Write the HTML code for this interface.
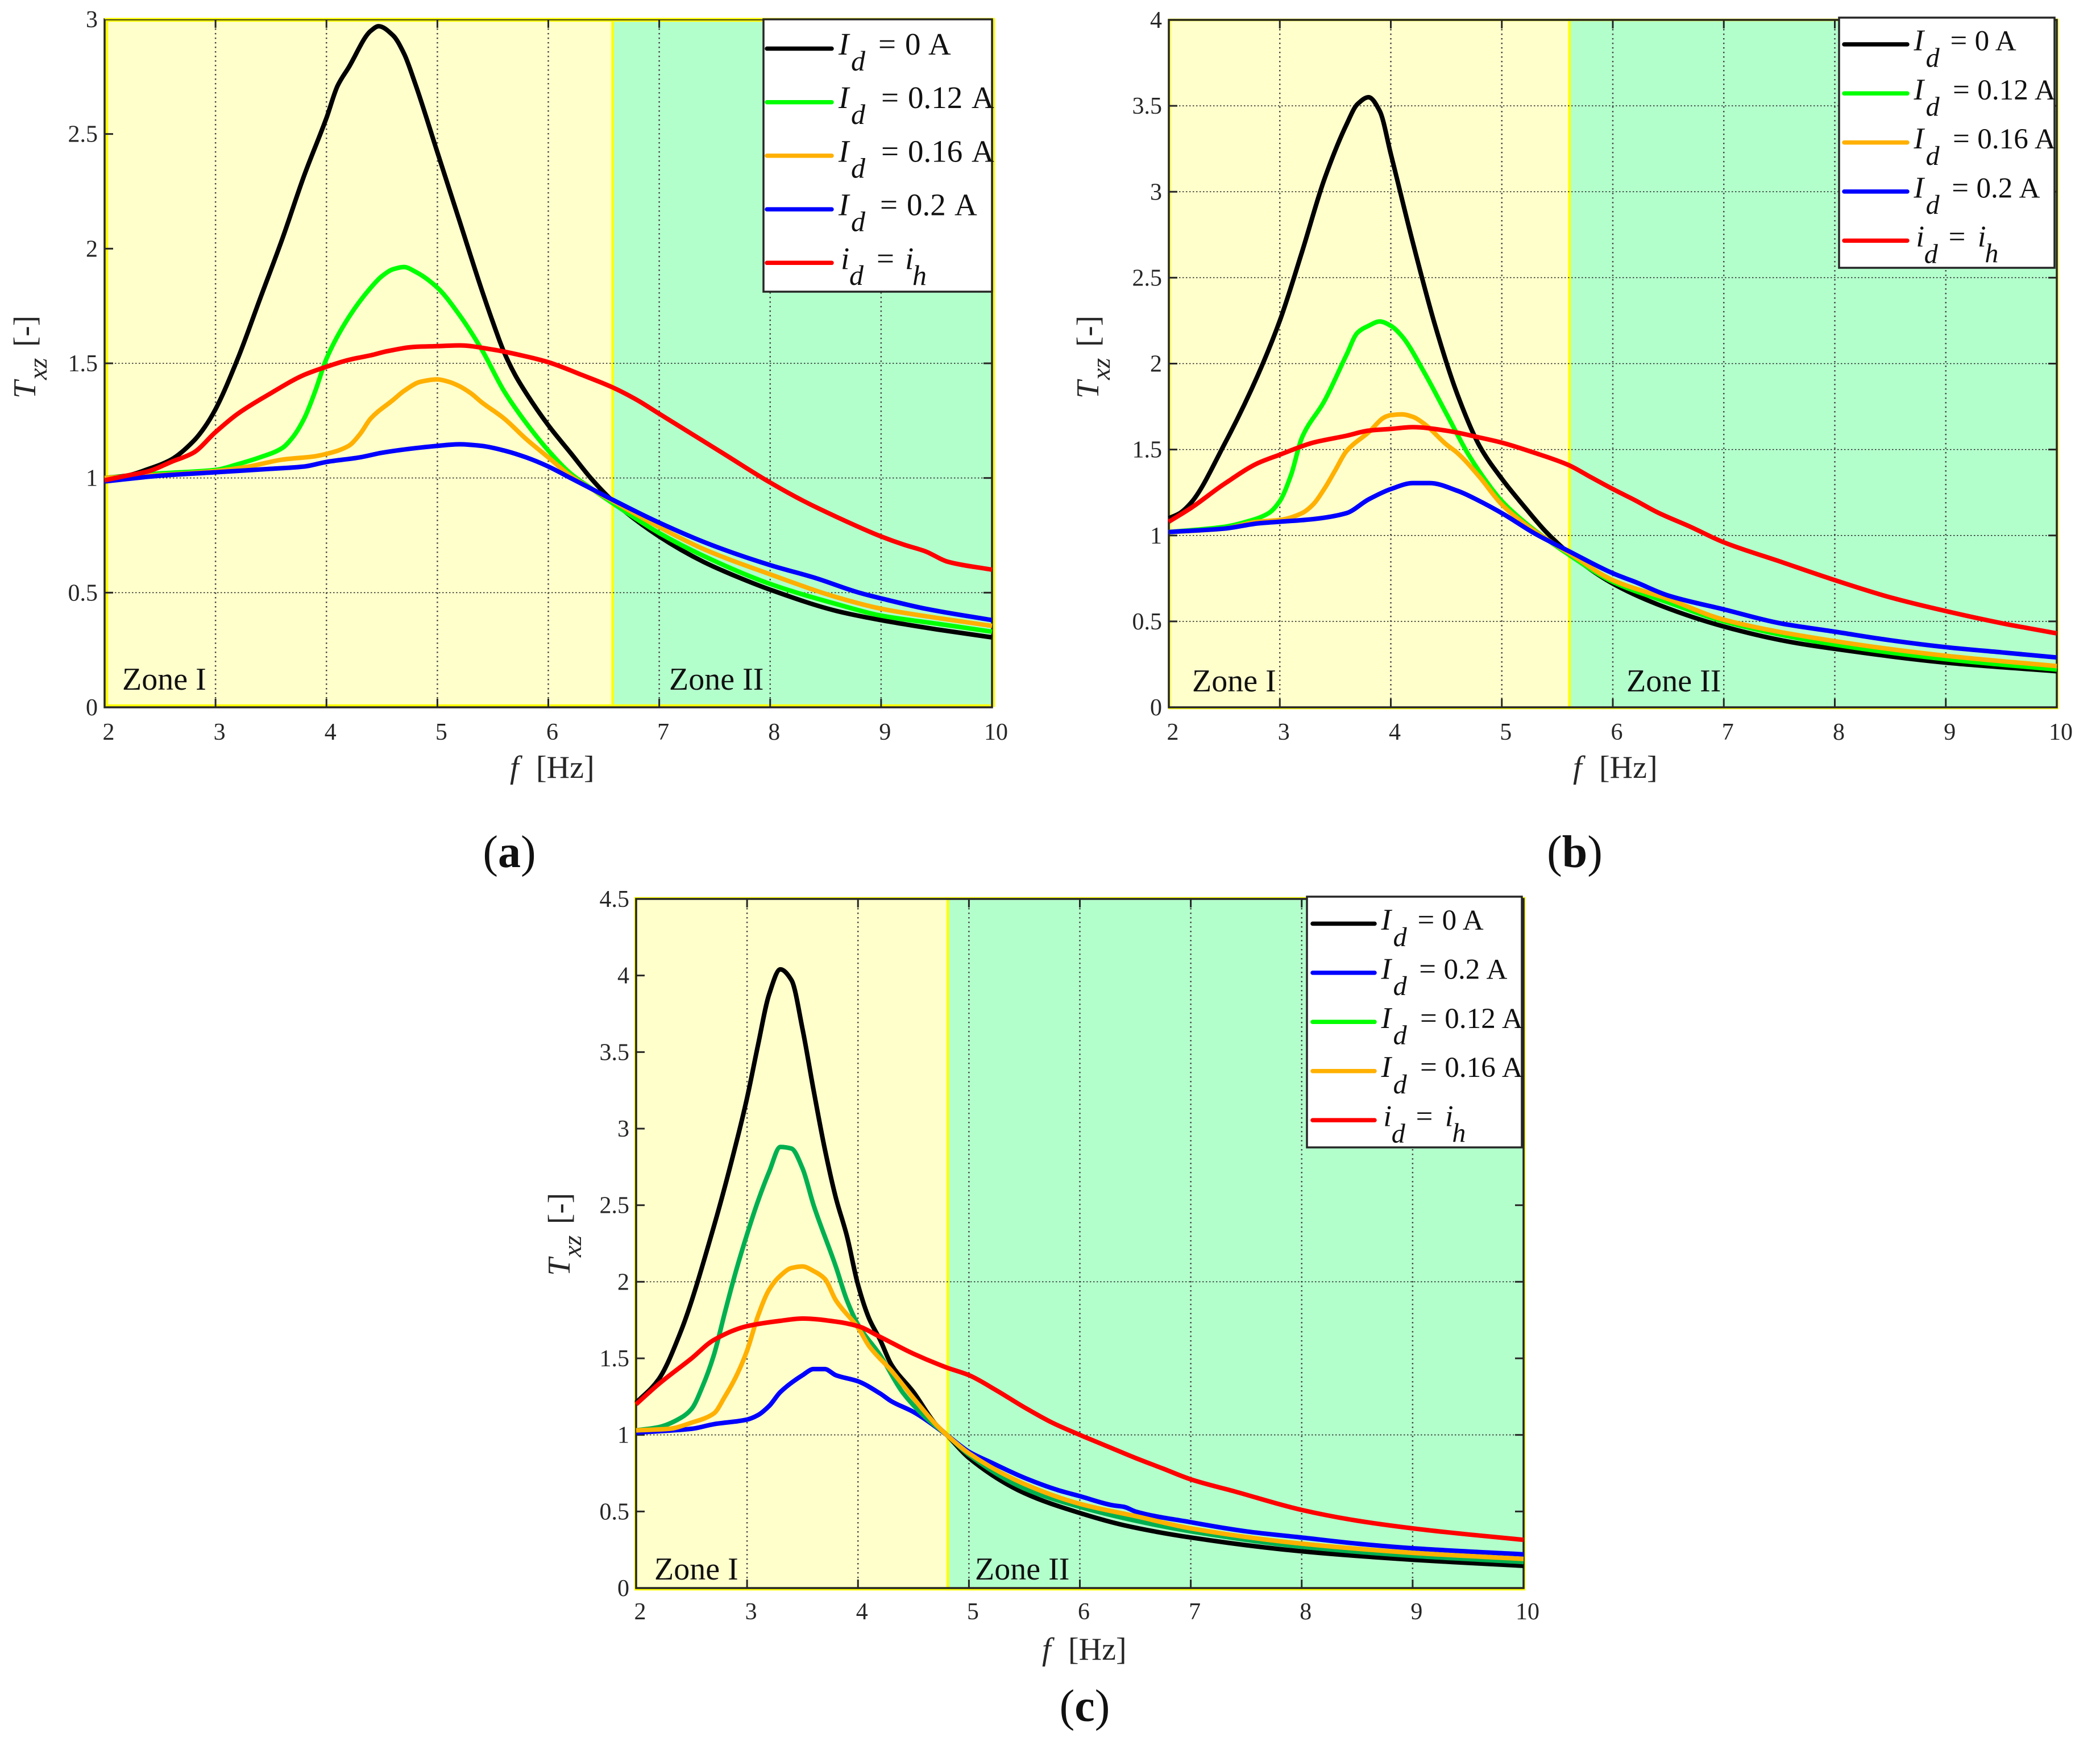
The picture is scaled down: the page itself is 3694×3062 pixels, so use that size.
<!DOCTYPE html>
<html lang="en">
<head>
<meta charset="utf-8">
<title>Transmissibility Txz versus frequency for three configurations</title>
<style>
html,body{margin:0;padding:0;background:#fff;}
svg{display:block;}
text{font-family:"Liberation Serif","Times New Roman",serif;}
</style>
</head>
<body>
<svg id="figure" xmlns="http://www.w3.org/2000/svg" width="3694" height="3062" viewBox="0 0 3694 3062">
<rect x="0" y="0" width="3694" height="3062" fill="#ffffff"/>
</svg>
<script>
// ---- shared tick labels ----
const xTickValues = [2, 3, 4, 5, 6, 7, 8, 9, 10];
const aYTicks = [0, 0.5, 1, 1.5, 2, 2.5, 3];
const bYTicks = [0, 0.5, 1, 1.5, 2, 2.5, 3, 3.5, 4];
const cYTicks = [0, 0.5, 1, 1.5, 2, 2.5, 3, 3.5, 4, 4.5];
const aGridY = [0.5, 1, 1.5];
const bGridY = [0.5, 1, 1.5, 2, 2.5, 3, 3.5];
const cGridY = [1, 2];

// ---- panel (a) ----
const aBlackF = [2,2.2,2.4,2.6,2.8,2.9,3,3.2,3.4,3.6,3.8,4,4.1,4.2,4.4,4.47,4.6,4.7,4.8,5,5.2,5.4,5.5,5.6,5.7,5.8,6,6.2,6.4,6.58,7,7.4,7.8,8,8.6,9,9.5,10];
const aBlackT = [1,1.01,1.04,1.08,1.16,1.22,1.30,1.52,1.78,2.04,2.32,2.57,2.71,2.79,2.95,2.97,2.93,2.85,2.72,2.42,2.12,1.82,1.68,1.55,1.45,1.37,1.23,1.11,0.99,0.90,0.745,0.634,0.55,0.513,0.42,0.38,0.34,0.305];
const aGreenF = [2,2.5,3,3.2,3.4,3.6,3.7,3.8,3.9,4,4.2,4.4,4.5,4.6,4.7,4.8,5,5.2,5.4,5.6,5.8,6,6.2,6.4,6.58,7,7.4,8,8.6,9,9.5,10];
const aGreenT = [1,1.02,1.035,1.06,1.09,1.13,1.18,1.26,1.38,1.52,1.70,1.83,1.88,1.91,1.92,1.90,1.83,1.71,1.56,1.38,1.24,1.12,1.02,0.95,0.89,0.76,0.66,0.538,0.45,0.40,0.365,0.33];
const aOrangeF = [2,3,3.3,3.6,3.9,4,4.2,4.3,4.4,4.6,4.7,4.85,5,5.1,5.2,5.3,5.4,5.6,5.8,6,6.2,6.58,7,7.4,8,8.6,9,9.5,10];
const aOrangeT = [1,1.03,1.05,1.08,1.095,1.105,1.14,1.19,1.26,1.34,1.38,1.42,1.43,1.42,1.40,1.37,1.33,1.26,1.17,1.09,1.01,0.90,0.786,0.69,0.58,0.48,0.43,0.39,0.355];
const aBlueF = [2,2.5,3,3.5,3.8,4,4.3,4.5,4.8,5,5.2,5.4,5.6,5.8,6,6.2,6.4,6.58,7,7.47,8,8.4,8.8,9,9.4,10];
const aBlueT = [0.985,1.01,1.025,1.04,1.05,1.07,1.09,1.11,1.13,1.14,1.147,1.14,1.12,1.09,1.05,1.0,0.95,0.905,0.805,0.708,0.62,0.565,0.5,0.475,0.43,0.38];
const aRedF = [2,2.2,2.4,2.6,2.8,3,3.2,3.5,3.8,4,4.2,4.4,4.55,4.8,5,5.2,5.5,5.8,6,6.3,6.58,6.8,7,7.3,7.6,8,8.3,8.6,9,9.2,9.4,9.6,10];
const aRedT = [0.99,1.01,1.03,1.07,1.11,1.2,1.28,1.37,1.45,1.485,1.515,1.535,1.553,1.572,1.575,1.578,1.56,1.53,1.505,1.45,1.395,1.34,1.28,1.19,1.10,0.98,0.9,0.83,0.745,0.71,0.68,0.635,0.60];

// ---- panel (b) ----
const bBlackF = [2,2.1,2.2,2.5,2.8,3,3.2,3.4,3.6,3.7,3.8,3.9,4,4.2,4.4,4.6,4.8,5,5.2,5.4,5.6,6,6.4,7,7.6,8,9,10];
const bBlackT = [1.1,1.13,1.19,1.53,1.93,2.25,2.65,3.07,3.39,3.51,3.55,3.47,3.22,2.7,2.22,1.82,1.52,1.33,1.17,1.02,0.90,0.72,0.6,0.47,0.38,0.34,0.26,0.21];
const bGreenF = [2,2.5,2.7,2.9,3,3.1,3.2,3.4,3.6,3.7,3.8,3.9,4,4.1,4.3,4.5,4.7,4.9,5,5.2,5.4,5.6,6,6.5,7,8,9,10];
const bGreenT = [1.02,1.05,1.08,1.13,1.2,1.35,1.57,1.78,2.05,2.18,2.22,2.245,2.22,2.16,1.95,1.71,1.47,1.28,1.2,1.08,0.98,0.89,0.73,0.61,0.5,0.365,0.28,0.22];
const bOrangeF = [2,2.5,2.8,3,3.2,3.3,3.4,3.5,3.6,3.8,3.95,4,4.1,4.2,4.3,4.5,4.6,4.8,5,5.2,5.4,5.6,6,6.5,7,8,9,10];
const bOrangeT = [1.02,1.04,1.08,1.09,1.13,1.18,1.27,1.38,1.49,1.6,1.69,1.70,1.705,1.69,1.65,1.53,1.48,1.34,1.18,1.07,0.98,0.90,0.74,0.63,0.51,0.385,0.3,0.24];
const bBlueF = [2,2.5,2.8,3,3.3,3.6,3.8,4,4.2,4.35,4.6,4.8,5,5.3,5.6,6,6.2,6.5,7,7.5,8,8.5,9,9.5,10];
const bBlueT = [1.02,1.04,1.07,1.08,1.095,1.13,1.21,1.27,1.305,1.305,1.26,1.2,1.13,1.01,0.91,0.78,0.73,0.65,0.57,0.49,0.44,0.39,0.35,0.32,0.29];
const bRedF = [2,2.2,2.5,2.8,3,3.3,3.6,3.8,4,4.2,4.5,4.8,5,5.3,5.6,5.8,6,6.2,6.4,6.7,7,7.5,8,8.5,9,9.5,10];
const bRedT = [1.08,1.16,1.3,1.42,1.47,1.54,1.58,1.61,1.62,1.63,1.61,1.57,1.54,1.48,1.41,1.34,1.27,1.205,1.135,1.05,0.96,0.85,0.74,0.64,0.56,0.49,0.43];

// ---- panel (c) ----
const cBlackF = [2,2.2,2.4,2.7,2.9,3,3.1,3.2,3.3,3.4,3.5,3.6,3.7,3.8,3.9,4,4.1,4.2,4.3,4.5,4.7,4.8,5,5.5,6,6.4,7,8,9,10];
const cBlackT = [1.21,1.36,1.67,2.36,2.9,3.2,3.55,3.88,4.04,3.97,3.65,3.25,2.87,2.55,2.3,1.98,1.76,1.62,1.46,1.28,1.07,1.0,0.85,0.62,0.49,0.41,0.33,0.24,0.185,0.145];
const cBlueF = [2,2.5,2.7,3,3.1,3.2,3.3,3.5,3.6,3.7,3.8,4,4.2,4.3,4.5,4.8,5,5.2,5.5,5.8,6,6.3,6.4,6.5,7,7.5,8,8.5,9,10];
const cBlueT = [1.015,1.04,1.07,1.1,1.13,1.19,1.28,1.39,1.43,1.43,1.39,1.35,1.27,1.22,1.15,1.0,0.89,0.82,0.72,0.64,0.6,0.54,0.53,0.5,0.43,0.37,0.33,0.29,0.26,0.22];
const cGreenF = [2,2.2,2.4,2.5,2.6,2.7,2.8,2.9,3,3.1,3.2,3.3,3.4,3.5,3.6,3.8,3.9,4,4.2,4.4,4.6,4.8,5,5.5,6,6.5,7,8,9,10];
const cGreenT = [1.03,1.05,1.11,1.17,1.32,1.52,1.8,2.07,2.31,2.53,2.72,2.88,2.87,2.74,2.5,2.1,1.88,1.72,1.52,1.28,1.12,1.0,0.87,0.65,0.53,0.44,0.37,0.27,0.21,0.17];
const cOrangeF = [2,2.3,2.5,2.7,2.8,2.9,3,3.1,3.2,3.3,3.4,3.5,3.6,3.7,3.8,4,4.1,4.3,4.5,4.7,4.8,5,5.5,6,6.5,7,8,9,10];
const cOrangeT = [1.03,1.04,1.08,1.14,1.25,1.38,1.55,1.78,1.95,2.04,2.09,2.1,2.07,2.02,1.88,1.7,1.58,1.42,1.24,1.07,1.0,0.88,0.68,0.55,0.47,0.39,0.29,0.23,0.19];
const cRedF = [2,2.2,2.5,2.7,3,3.3,3.5,3.8,4,4.2,4.5,4.8,5,5.25,5.5,5.75,6,6.25,6.5,6.75,7,7.4,8,8.5,9,9.5,10];
const cRedT = [1.2,1.33,1.5,1.62,1.71,1.745,1.76,1.74,1.71,1.64,1.53,1.44,1.39,1.29,1.18,1.08,1.0,0.925,0.85,0.78,0.71,0.63,0.51,0.44,0.39,0.35,0.315];

// ---- zone boundary frequency per panel ----
const aZoneBoundary = 6.58;
const bZoneBoundary = 5.61;
const cZoneBoundary = 4.81;

const svgNS = 'http://www.w3.org/2000/svg';
const figure = document.getElementById('figure');
const axisInk = '#262626';

function make(tag, attrs, parent) {
  const el = document.createElementNS(svgNS, tag);
  for (const k in attrs) el.setAttribute(k, attrs[k]);
  parent.appendChild(el);
  return el;
}
function label(parent, str, x, y, size, fill, name, anchor, italic, extra) {
  const el = document.createElementNS(svgNS, 'text');
  el.setAttribute('x', x);
  el.setAttribute('y', y);
  el.setAttribute('font-size', size);
  el.setAttribute('fill', fill);
  el.setAttribute('text-anchor', anchor || 'start');
  if (italic) el.setAttribute('font-style', 'italic');
  if (extra) el.setAttribute('transform', extra);
  
  
  el.textContent = str;
  parent.appendChild(el);
  return el;
}
// Monotone cubic path through the data points
function curvePath(px, py) {
  const n = px.length, m = [], s = [];
  for (let i = 0; i < n - 1; i++) s.push((py[i + 1] - py[i]) / (px[i + 1] - px[i]));
  m.push(s[0]);
  for (let i = 1; i < n - 1; i++) {
    if (s[i - 1] * s[i] <= 0) m.push(0);
    else {
      const h0 = px[i] - px[i - 1], h1 = px[i + 1] - px[i];
      m.push(3 * (h0 + h1) / ((2 * h1 + h0) / s[i - 1] + (h1 + 2 * h0) / s[i]));
    }
  }
  m.push(s[n - 2]);
  let d = 'M' + px[0].toFixed(1) + ' ' + py[0].toFixed(1);
  for (let i = 0; i < n - 1; i++) {
    const h = (px[i + 1] - px[i]) / 3;
    d += 'C' + (px[i] + h).toFixed(1) + ' ' + (py[i] + m[i] * h).toFixed(1) + ' ' +
      (px[i + 1] - h).toFixed(1) + ' ' + (py[i + 1] - m[i + 1] * h).toFixed(1) + ' ' +
      px[i + 1].toFixed(1) + ' ' + py[i + 1].toFixed(1);
  }
  return d;
}

const legendFormats = {
  'zero': {main: 'I', sub: 'd', num: '0', eq: 82, at: 129, amp: 170},
  'p12': {main: 'I', sub: 'd', num: '0.12', eq: 87, at: 134, amp: 246},
  'p16': {main: 'I', sub: 'd', num: '0.16', eq: 87, at: 134, amp: 246},
  'p2': {main: 'I', sub: 'd', num: '0.2', eq: 85, at: 132, amp: 216},
  'ih': {main: 'i', sub: 'd', num: 'i', eq: 79, at: 129, amp: 0}
};

function drawPanel(p) {
  const g = make('g', {}, figure);
  
  
  const sx = f => p.x0 + (f - 2) / 8 * (p.x1 - p.x0);
  const sy = v => p.y0 - v / p.yMax * (p.y0 - p.y1);

  // zones
  const zb = sx(p.boundary);
  const zone1 = make('rect', {x: p.zx0, y: p.zy1, width: zb - p.zx0, height: p.zy0 - p.zy1, fill: '#ffffcc', stroke: '#ffff00', 'stroke-width': 4.5}, g);
  
  
  const zone2 = make('rect', {x: zb, y: p.zy1, width: p.zx1 - zb, height: p.zy0 - p.zy1, fill: '#b3ffcc', stroke: '#ffff00', 'stroke-width': 4.5}, g);
  
  

  // grid
  xTickValues.slice(1, -1).forEach(f => {
    const ln = make('line', {x1: sx(f), x2: sx(f), y1: p.y1, y2: p.y0, stroke: '#444444', 'stroke-width': 2.5, 'stroke-dasharray': '2.5 5.5'}, g);
    
    
  });
  p.gridY.forEach(v => {
    const ln = make('line', {x1: p.x0, x2: p.x1, y1: sy(v), y2: sy(v), stroke: '#222222', 'stroke-width': 1.5, 'stroke-dasharray': '2.5 3.5'}, g);
    
    
  });

  // axes box and ticks
  const box = make('rect', {x: p.x0, y: p.y1, width: p.x1 - p.x0, height: p.y0 - p.y1, fill: 'none', stroke: axisInk, 'stroke-width': 3.5}, g);
  
  
  if (p.topStrip) {
    const strip = make('rect', {x: p.x0, y: p.y1 - 2.5, width: p.x1 - p.x0 + 5, height: 2.5, fill: '#ffff00'}, g);
    
    
  }
  xTickValues.forEach(f => {
    if (f > 2 && f < 10) {
      const tb = make('line', {x1: sx(f), x2: sx(f), y1: p.y0, y2: p.y0 - 15, stroke: axisInk, 'stroke-width': 3}, g);
      
      
      const tt = make('line', {x1: sx(f), x2: sx(f), y1: p.y1, y2: p.y1 + 15, stroke: axisInk, 'stroke-width': 3}, g);
      
      
    }
    label(g, String(f), sx(f) + 7, p.xTickBase, 42, axisInk, 'x-tick-label', 'middle');
  });
  p.yTicks.forEach(v => {
    if (v > 0 && v < p.yMax) {
      const tl = make('line', {x1: p.x0, x2: p.x0 + 15, y1: sy(v), y2: sy(v), stroke: axisInk, 'stroke-width': 3}, g);
      
      
      const tr = make('line', {x1: p.x1, x2: p.x1 - 15, y1: sy(v), y2: sy(v), stroke: axisInk, 'stroke-width': 3}, g);
      
      
    }
    label(g, String(v), p.x0 - 12, sy(v) + 14, 42, axisInk, 'y-tick-label', 'end');
  });

  // series
  p.series.forEach(s => {
    const path = make('path', {
      d: curvePath(s.f.map(sx), s.t.map(sy)), fill: 'none', stroke: s.color,
      'stroke-width': 8, 'stroke-linejoin': 'round', 'stroke-linecap': 'butt'
    }, g);
    
    
  });

  // zone labels
  label(g, 'Zone I', p.zone1X, p.zoneBase, 56, '#111111', 'zone-1-label');
  label(g, 'Zone II', p.zone2X, p.zoneBase, 56, '#111111', 'zone-2-label');

  // x axis title
  label(g, 'f', p.fX, p.xTitleBase, 56, '#262626', 'x-axis-title-symbol', 'start', true);
  label(g, '[Hz]', p.fX + 46, p.xTitleBase, 56, '#262626', 'x-axis-title-unit');

  // y axis title
  const rot = (x, y) => 'rotate(-90 ' + x + ' ' + y + ')';
  label(g, 'T', p.tX, p.tY, 56, '#262626', 'y-axis-title-symbol', 'start', true, rot(p.tX, p.tY));
  label(g, 'xz', p.tX + 20, p.tY - 33, 46, '#262626', 'y-axis-title-subscript', 'start', true, rot(p.tX + 20, p.tY - 33));
  label(g, '[-]', p.tX, p.tY - 91, 55, '#262626', 'y-axis-title-unit', 'start', false, rot(p.tX, p.tY - 91));

  // legend
  const leg = make('g', {}, g);
  
  
  const lb = make('rect', {x: p.lx0, y: p.ly0, width: p.lx1 - p.lx0, height: p.ly1 - p.ly0, fill: '#ffffff', stroke: axisInk, 'stroke-width': 3.5}, leg);
  
  
  p.series.forEach((s, i) => {
    const y = p.rowY + i * p.rowStep;
    const sw = make('line', {x1: p.swX0, x2: p.swX1, y1: y, y2: y, stroke: s.legendColor || s.color, 'stroke-width': 7.5, 'stroke-linecap': 'round'}, leg);
    
    
    const fmt = legendFormats[s.fmt];
    const e = p.swX1, k = p.lk, fs = 55 * k;
    const subSize = 50 * k;
    const isI = fmt.main === 'I';
    label(leg, fmt.main, e + (isI ? 12 : 16) * k, y + 10.5, fs, '#111111', 'legend-symbol', 'start', true);
    label(leg, fmt.sub, e + (isI ? 34 : 31) * k, y + 38.5 * (p.rowStep < 90 ? 1.02 : 1), subSize, '#111111', 'legend-subscript', 'start', true);
    label(leg, '=', e + fmt.eq * p.eqK, y + 10.5, fs, '#111111', 'legend-equals');
    if (s.fmt === 'ih') {
      label(leg, 'i', e + fmt.at * k, y + 10.5, fs, '#111111', 'legend-value', 'start', true);
      label(leg, 'h', e + 142 * k, y + 38.5, subSize, '#111111', 'legend-value-subscript', 'start', true);
    } else {
      label(leg, fmt.num, e + fmt.at * p.eqK, y + 10.5, 55 * p.numK, '#111111', 'legend-value');
      label(leg, 'A', e + fmt.amp * p.ampK, y + 10.5, 55 * p.numK, '#111111', 'legend-unit');
    }
  });

  // panel caption
  const cap = label(g, '(', p.capX, p.capBase, 80, '#111111', 'panel-caption', 'middle');
  const bold = document.createElementNS(svgNS, 'tspan');
  bold.setAttribute('font-weight', 'bold');
  bold.textContent = p.id;
  cap.appendChild(bold);
  cap.appendChild(document.createTextNode(')'));
}

drawPanel({
  id: 'a', x0: 184, x1: 1745, y0: 1244, y1: 34, yMax: 3, yTicks: aYTicks, gridY: aGridY,
  boundary: aZoneBoundary, zx0: 188, zx1: 1748, zy0: 1241, zy1: 36, topStrip: true,
  xTickBase: 1301, zoneBase: 1213, zone1X: 215, zone2X: 1177,
  fX: 897, xTitleBase: 1368, tX: 62, tY: 701, capX: 896, capBase: 1525,
  lx0: 1343, lx1: 1745, ly0: 34, ly1: 513, swX0: 1349, swX1: 1463, rowY: 85.5, rowStep: 94.2, lk: 1, eqK: 1, numK: 1, ampK: 1,
  series: [
    {key: 'id-0', f: aBlackF, t: aBlackT, color: '#000000', fmt: 'zero'},
    {key: 'id-0-12', f: aGreenF, t: aGreenT, color: '#00ff00', fmt: 'p12'},
    {key: 'id-0-16', f: aOrangeF, t: aOrangeT, color: '#ffb000', fmt: 'p16'},
    {key: 'id-0-2', f: aBlueF, t: aBlueT, color: '#0000ff', fmt: 'p2'},
    {key: 'id-ih', f: aRedF, t: aRedT, color: '#ff0000', fmt: 'ih'}
  ]
});
drawPanel({
  id: 'b', x0: 2056, x1: 3618, y0: 1244, y1: 35, yMax: 4, yTicks: bYTicks, gridY: bGridY,
  boundary: bZoneBoundary, zx0: 2057, zx1: 3619, zy0: 1245, zy1: 35,
  xTickBase: 1301, zoneBase: 1216, zone1X: 2097, zone2X: 2861,
  fX: 2767, xTitleBase: 1368, tX: 1932, tY: 701, capX: 2770, capBase: 1525,
  lx0: 3235, lx1: 3614, ly0: 31, ly1: 471, swX0: 3244, swX1: 3355, rowY: 78, rowStep: 86.3, lk: 0.96, eqK: 0.92, numK: 0.93, ampK: 0.91,
  series: [
    {key: 'id-0', f: bBlackF, t: bBlackT, color: '#000000', fmt: 'zero'},
    {key: 'id-0-12', f: bGreenF, t: bGreenT, color: '#00ff00', fmt: 'p12'},
    {key: 'id-0-16', f: bOrangeF, t: bOrangeT, color: '#ffb000', fmt: 'p16'},
    {key: 'id-0-2', f: bBlueF, t: bBlueT, color: '#0000ff', fmt: 'p2'},
    {key: 'id-ih', f: bRedF, t: bRedT, color: '#ff0000', fmt: 'ih'}
  ]
});
drawPanel({
  id: 'c', x0: 1119, x1: 2680, y0: 2793, y1: 1581, yMax: 4.5, yTicks: cYTicks, gridY: cGridY,
  boundary: cZoneBoundary, zx0: 1118, zx1: 2681, zy0: 2795, zy1: 1580,
  xTickBase: 2848, zoneBase: 2778, zone1X: 1151, zone2X: 1715,
  fX: 1833, xTitleBase: 2919, tX: 1002, tY: 2244, capX: 1908, capBase: 3027,
  lx0: 2299, lx1: 2677, ly0: 1577, ly1: 2018, swX0: 2309, swX1: 2418, rowY: 1624.5, rowStep: 86.4, lk: 0.96, eqK: 0.92, numK: 0.93, ampK: 0.91,
  series: [
    {key: 'id-0', f: cBlackF, t: cBlackT, color: '#000000', fmt: 'zero'},
    {key: 'id-0-2', f: cBlueF, t: cBlueT, color: '#0000ff', fmt: 'p2'},
    {key: 'id-0-12', f: cGreenF, t: cGreenT, color: '#00b050', legendColor: '#00ff00', fmt: 'p12'},
    {key: 'id-0-16', f: cOrangeF, t: cOrangeT, color: '#ffb000', fmt: 'p16'},
    {key: 'id-ih', f: cRedF, t: cRedT, color: '#ff0000', fmt: 'ih'}
  ]
});
</script>
</body>
</html>
